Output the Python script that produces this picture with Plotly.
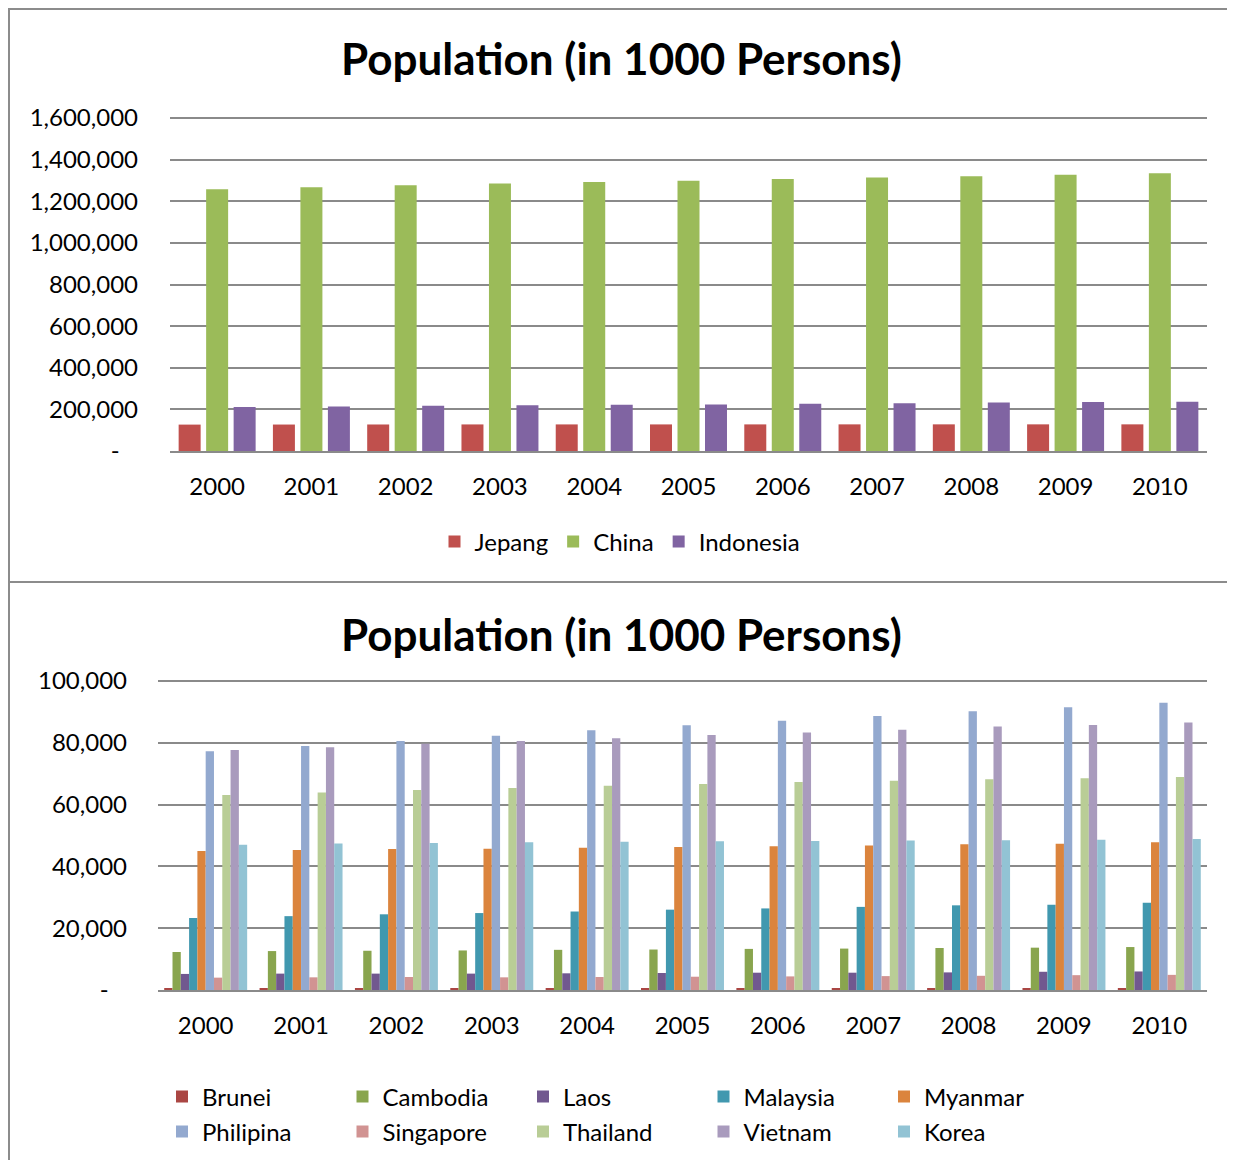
import plotly.graph_objects as go

W, H = 1235, 1160
OFF = 8  # page body margin: figure starts 8px right/down of the page origin

years = [str(y) for y in range(2000, 2011)]

# Top chart (in 1000 persons)
jepang = [126870, 127150, 127440, 127720, 127760, 127770, 127850, 128000, 128060, 128050, 128070]
china = [1258000, 1267000, 1277000, 1285000, 1292000, 1299000, 1307000, 1314000, 1320000, 1327000, 1334000]
indonesia = [211000, 214000, 217000, 220000, 222000, 224000, 227000, 230000, 233000, 235000, 237000]

# Bottom chart (in 1000 persons)
brunei = [333, 340, 346, 353, 359, 366, 372, 379, 386, 392, 399]
cambodia = [12300, 12600, 12700, 12800, 13000, 13100, 13300, 13400, 13600, 13700, 13900]
laos = [5200, 5300, 5300, 5300, 5400, 5500, 5600, 5600, 5700, 5900, 6000]
malaysia = [23300, 23900, 24500, 24900, 25400, 26000, 26400, 26900, 27400, 27600, 28200]
myanmar = [45000, 45300, 45600, 45700, 46000, 46300, 46500, 46800, 47200, 47300, 47800]
philipina = [77300, 79000, 80600, 82300, 84100, 85700, 87100, 88700, 90200, 91500, 93000]
singapore = [4000, 4100, 4200, 4100, 4200, 4300, 4400, 4500, 4600, 4800, 4900]
thailand = [63100, 63900, 64700, 65400, 66100, 66700, 67300, 67700, 68200, 68500, 68900]
vietnam = [77700, 78600, 79700, 80600, 81500, 82500, 83300, 84200, 85300, 85800, 86600]
korea = [47000, 47400, 47600, 47800, 48000, 48100, 48200, 48400, 48500, 48600, 48900]

top_ticks = [0, 200000, 400000, 600000, 800000, 1000000, 1200000, 1400000, 1600000]
top_ticktext = ["-\u00a0\u00a0\u00a0", "200,000", "400,000", "600,000", "800,000",
                "1,000,000", "1,200,000", "1,400,000", "1,600,000"]
bot_ticks = [0, 20000, 40000, 60000, 80000, 100000]
bot_ticktext = ["-\u00a0\u00a0\u00a0", "20,000", "40,000", "60,000", "80,000", "100,000"]

FONT = "Lato, Carlito, sans-serif"
GRID = "#8a8a8a"

def fx(p):
    return (p - OFF) / W

def fy(p):
    return 1 - (p - OFF) / H

top_series = [("Jepang", jepang, "#C0504D"), ("China", china, "#9BBB59"),
              ("Indonesia", indonesia, "#8064A2")]
bot_series = [("Brunei", brunei, "#AA4643"), ("Cambodia", cambodia, "#89A54E"),
              ("Laos", laos, "#71588F"), ("Malaysia", malaysia, "#4198AF"),
              ("Myanmar", myanmar, "#DB843D"), ("Philipina", philipina, "#93A9CF"),
              ("Singapore", singapore, "#D19392"), ("Thailand", thailand, "#B9CD96"),
              ("Vietnam", vietnam, "#A99BBD"), ("Korea", korea, "#92C3D4")]

fig = go.Figure()

g, n = 0.875, len(top_series)
slot = g / n
bw = slot * 0.8
for i, (name, vals, col) in enumerate(top_series):
    fig.add_bar(x=years, y=vals, name=name, marker_color=col, marker_line_width=0,
                width=bw, offset=-g / 2 + i * slot + (slot - bw) / 2,
                xaxis="x", yaxis="y", legend="legend")

g2, n2 = 0.87, len(bot_series)
slot2 = g2 / n2
for i, (name, vals, col) in enumerate(bot_series):
    fig.add_bar(x=years, y=vals, name=name, marker_color=col, marker_line_width=0,
                width=slot2, offset=-g2 / 2 + i * slot2,
                xaxis="x2", yaxis="y2", legend="legend2" if i < 5 else "legend3")

FS = 24
axis_font = dict(family=FONT, size=FS, color="#000000")

# plot-area pixel boxes (page coords); y max slightly above the top gridline so it is drawn
top_box = (170, 1207, 116, 451)
bot_box = (158, 1207, 679, 990)
top_max = 1600000 * (451 - 116) / (451 - 118)
bot_max = 100000 * (990 - 679) / (990 - 681)

fig.update_layout(
    width=W, height=H, margin=dict(l=0, r=0, t=0, b=0, autoexpand=False),
    paper_bgcolor="white", plot_bgcolor="white",
    barmode="overlay",
    font=dict(family=FONT, size=FS, color="#000000"),
    xaxis=dict(domain=[fx(top_box[0]), fx(top_box[1])], anchor="y", type="category",
               showline=True, linecolor=GRID, linewidth=2, showgrid=False, automargin=False,
               ticks="", tickfont=axis_font, ticklabelstandoff=13),
    yaxis=dict(domain=[fy(top_box[3]), fy(top_box[2])], anchor="x", range=[0, top_max],
               tickvals=top_ticks, ticktext=top_ticktext, showgrid=True, automargin=False,
               gridcolor=GRID, gridwidth=2, zeroline=False, showline=False,
               ticks="", tickfont=axis_font, ticklabelstandoff=31),
    xaxis2=dict(domain=[fx(bot_box[0]), fx(bot_box[1])], anchor="y2", type="category",
                showline=True, linecolor=GRID, linewidth=2, showgrid=False, automargin=False,
                ticks="", tickfont=axis_font, ticklabelstandoff=13),
    yaxis2=dict(domain=[fy(bot_box[3]), fy(bot_box[2])], anchor="x2", range=[0, bot_max],
                tickvals=bot_ticks, ticktext=bot_ticktext, showgrid=True, automargin=False,
                gridcolor=GRID, gridwidth=2, zeroline=False, showline=False,
                ticks="", tickfont=axis_font, ticklabelstandoff=30),
    legend=dict(orientation="h", x=fx(620), xanchor="center", y=fy(542), yanchor="middle",
                font=dict(family=FONT, size=FS), bgcolor="rgba(0,0,0,0)"),
    legend2=dict(orientation="h", x=fx(162), xanchor="left", y=fy(1097), yanchor="middle",
                 entrywidth=135.5, font=dict(family=FONT, size=FS), bgcolor="rgba(0,0,0,0)"),
    legend3=dict(orientation="h", x=fx(162), xanchor="left", y=fy(1132), yanchor="middle",
                 entrywidth=135.5, font=dict(family=FONT, size=FS), bgcolor="rgba(0,0,0,0)"),
    showlegend=True,
)

title_font = dict(family=FONT, size=44, color="#000000")
fig.add_annotation(text="<b>Population (in 1000 Persons)</b>", x=fx(621), y=fy(58),
                   xref="paper", yref="paper", showarrow=False, font=title_font,
                   xanchor="center", yanchor="middle")
fig.add_annotation(text="<b>Population (in 1000 Persons)</b>", x=fx(621), y=fy(634),
                   xref="paper", yref="paper", showarrow=False, font=title_font,
                   xanchor="center", yanchor="middle")

border = dict(color="#8c8c8c", width=2)
fig.add_shape(type="line", xref="paper", yref="paper", x0=fx(8), x1=1, y0=fy(9), y1=fy(9), line=border)
fig.add_shape(type="line", xref="paper", yref="paper", x0=fx(9), x1=fx(9), y0=fy(9), y1=0, line=border)
fig.add_shape(type="line", xref="paper", yref="paper", x0=fx(8), x1=1, y0=fy(582), y1=fy(582), line=border)

fig.write_html("out.html")
